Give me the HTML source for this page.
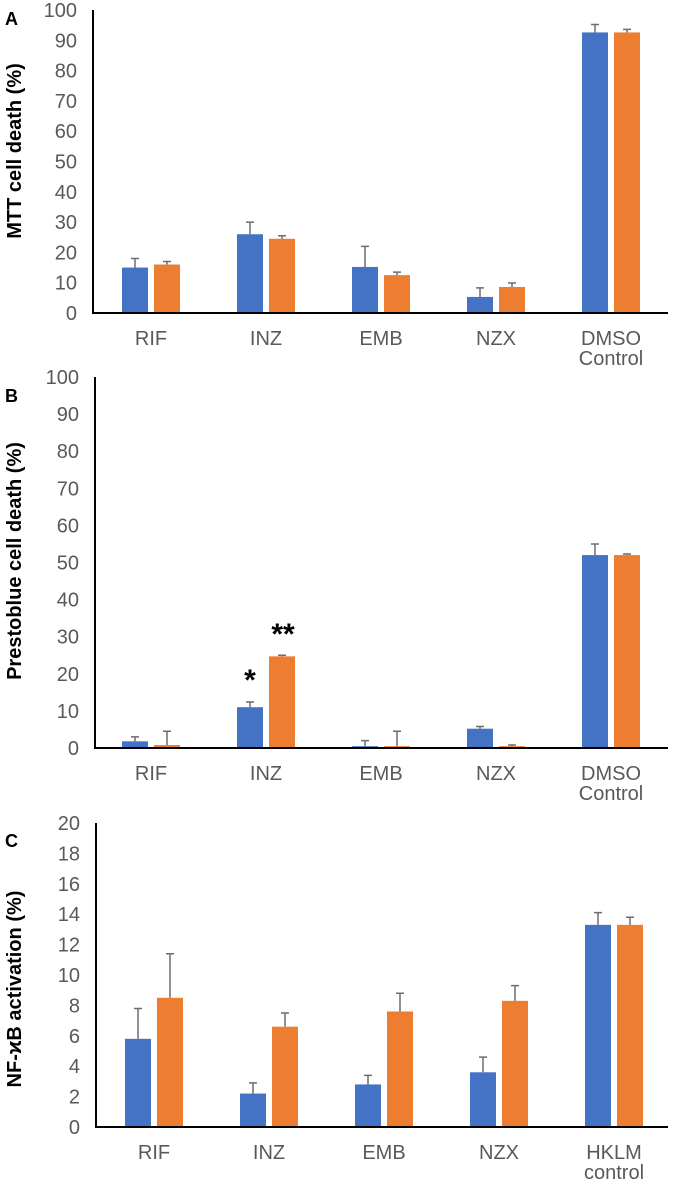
<!DOCTYPE html>
<html><head><meta charset="utf-8"><style>
body{margin:0;background:#fff;}
svg{display:block;font-family:"Liberation Sans",Arial,sans-serif;}
.tick{fill:#595959;font-size:20px;}
.cat{fill:#595959;font-size:20px;}
.ytitle{fill:#000;font-size:20px;font-weight:bold;}
.plabel{fill:#000;font-size:18px;font-weight:bold;}
</style></head><body>
<svg id="chart" width="682" height="1182" viewBox="0 0 682 1182" xmlns="http://www.w3.org/2000/svg"></svg>
<script>
const categoriesAB = ["RIF","INZ","EMB","NZX","DMSO|Control"];
const categoriesC = ["RIF","INZ","EMB","NZX","HKLM|control"];
const aBlue = [15,26,15.2,5.3,92.6];
const aBlueErr = [18,30,22,8.3,95.2];
const aOrange = [16,24.5,12.5,8.6,92.6];
const aOrangeErr = [17,25.5,13.5,9.9,93.6];
const bBlue = [1.8,11,0.5,5.2,52];
const bBlueErr = [3,12.4,2,5.8,55];
const bOrange = [0.8,24.7,0.5,0.5,52];
const bOrangeErr = [4.5,25,4.5,0.8,52.3];
const cBlue = [5.8,2.2,2.8,3.6,13.3];
const cBlueErr = [7.8,2.9,3.4,4.6,14.1];
const cOrange = [8.5,6.6,7.6,8.3,13.3];
const cOrangeErr = [11.4,7.5,8.8,9.3,13.8];
const ticksAB = [0,10,20,30,40,50,60,70,80,90,100];
const ticksC = [0,2,4,6,8,10,12,14,16,18,20];

const svg = document.getElementById('chart');
const NS = 'http://www.w3.org/2000/svg';
function mk(tag, attrs){const e=document.createElementNS(NS,tag);for(const k in attrs)e.setAttribute(k,attrs[k]);svg.appendChild(e);return e;}

function panel(p){
  const y = v => p.y0 - (v/p.max)*(p.y0-p.y100);
  const x = i => p.c0 + i*115;
  const lab = mk('text',{x:5,y:p.ly,class:'plabel'});
  lab.textContent = p.letter;
  
  
  const tt = mk('text',{x:0,y:0,class:'ytitle','text-anchor':'middle',transform:`translate(21,${p.ty}) rotate(-90)`});
  tt.textContent = p.title;
  
  
  p.ticks.forEach(t=>{
    const e = mk('text',{x:p.ax-16,y:y(t)+7,class:'tick','text-anchor':'end'});
    e.textContent = t;
    
    
  });
  p.cats.forEach((c,i)=>{
    const parts = c.split('|');
    parts.forEach((s,j)=>{
      const e = mk('text',{x:x(i),y:p.y0+32+j*20,class:'cat','text-anchor':'middle'});
      e.textContent = s;
      
      
    });
    [[p.blue,p.blueErr,'#4472c4',-29],[p.orange,p.orangeErr,'#ed7d31',3]].forEach(([vals,errs,col,off],k)=>{
      const bx = x(i)+off;
      const r = mk('rect',{x:bx,y:y(vals[i]),width:26,height:p.y0-y(vals[i]),fill:col});
      
      
      const cx = bx+13;
      const l = mk('path',{d:`M${cx} ${y(vals[i])}V${y(errs[i])}M${cx-4} ${y(errs[i])}H${cx+4}`,stroke:'#6d6d6d','stroke-width':1.5,fill:'none'});
      
      
    });
  });
  const ax = mk('path',{d:`M${p.ax} ${p.y100}V${p.y0}H668`,stroke:'#000','stroke-width':2,fill:'none'});
  
  
  return y;
}
panel({letter:'A',ly:25,ty:151,title:'MTT cell death (%)',y0:313,y100:10,max:100,ax:93,c0:151,ticks:ticksAB,cats:categoriesAB,blue:aBlue,blueErr:aBlueErr,orange:aOrange,orangeErr:aOrangeErr});
panel({letter:'B',ly:402,ty:561,title:'Prestoblue cell death (%)',y0:748,y100:377,max:100,ax:95,c0:151,ticks:ticksAB,cats:categoriesAB,blue:bBlue,blueErr:bBlueErr,orange:bOrange,orangeErr:bOrangeErr});
panel({letter:'C',ly:847,ty:989,title:'NF-\u03f0B activation (%)',y0:1127,y100:823,max:20,ax:96,c0:154,ticks:ticksC,cats:categoriesC,blue:cBlue,blueErr:cBlueErr,orange:cOrange,orangeErr:cOrangeErr});
const s1 = mk('text',{x:250,y:690,'font-size':30,'font-weight':'bold','text-anchor':'middle',fill:'#000'});
s1.textContent='*';


const s2 = mk('text',{x:283,y:644,'font-size':30,'font-weight':'bold','text-anchor':'middle',fill:'#000'});
s2.textContent='**';


</script>
</body></html>
